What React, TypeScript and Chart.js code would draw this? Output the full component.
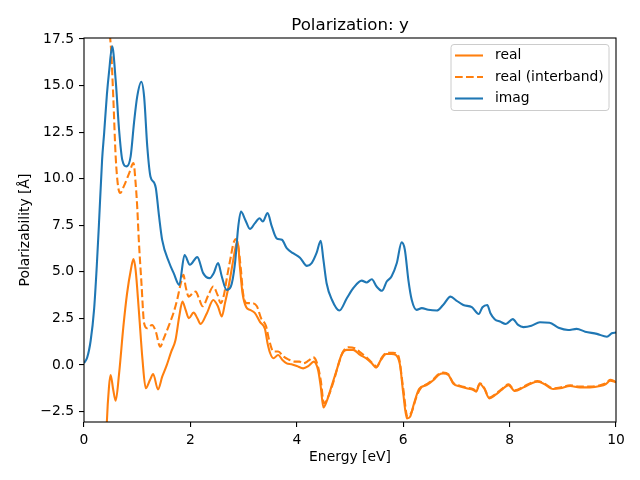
import React, { useEffect, useRef } from "react";
import { Chart, registerables } from "chart.js";

Chart.register(...registerables);

const imagE = [0, 0.06, 0.125, 0.19, 0.24, 0.28, 0.34, 0.38, 0.43, 0.47, 0.53, 0.595, 0.66, 0.72, 0.8, 0.877, 0.94, 1.0, 1.077, 1.13, 1.19, 1.25, 1.316, 1.35, 1.41, 1.47, 1.6, 1.69, 1.79, 1.89, 1.99, 2.13, 2.24, 2.36, 2.44, 2.52, 2.59, 2.68, 2.76, 2.84, 2.9, 2.95, 3.03, 3.12, 3.21, 3.3, 3.36, 3.45, 3.53, 3.62, 3.72, 3.81, 3.93, 4.06, 4.19, 4.28, 4.37, 4.45, 4.5, 4.56, 4.66, 4.8, 4.94, 5.06, 5.22, 5.31, 5.41, 5.5, 5.6, 5.69, 5.78, 5.88, 5.97, 6.03, 6.1, 6.16, 6.25, 6.35, 6.47, 6.63, 6.75, 6.89, 7.0, 7.13, 7.29, 7.42, 7.49, 7.58, 7.64, 7.72, 7.82, 7.93, 8.06, 8.16, 8.26, 8.41, 8.57, 8.75, 8.92, 9.1, 9.26, 9.42, 9.64, 9.83, 9.92, 10.0];
const imagV = [0.1, 0.4, 1.3, 3.0, 5.3, 7.5, 11.0, 12.5, 14.5, 15.7, 17.1, 15.3, 12.6, 11.0, 10.66, 11.2, 13.0, 14.4, 15.2, 14.4, 11.7, 10.1, 9.8, 9.5, 8.0, 6.7, 5.5, 4.9, 4.3, 5.9, 5.38, 5.79, 4.93, 4.66, 4.94, 5.47, 4.75, 4.03, 4.21, 5.5, 7.44, 8.24, 7.8, 7.3, 7.6, 7.88, 7.7, 8.15, 7.44, 6.8, 6.72, 6.27, 6.0, 5.76, 5.32, 5.47, 6.0, 6.67, 5.65, 4.39, 3.5, 2.92, 3.58, 4.12, 4.53, 4.43, 4.6, 4.21, 3.98, 4.48, 4.75, 5.47, 6.58, 6.2, 4.5, 3.5, 2.96, 3.05, 2.96, 2.92, 3.22, 3.67, 3.46, 3.22, 3.1, 2.74, 3.1, 3.22, 2.78, 2.46, 2.33, 2.2, 2.46, 2.15, 2.03, 2.1, 2.29, 2.27, 2.0, 1.88, 1.94, 1.79, 1.67, 1.52, 1.7, 1.74];

const realE = [0.4, 0.43, 0.47, 0.5, 0.55, 0.595, 0.66, 0.74, 0.81, 0.88, 0.93, 0.97, 1.03, 1.1, 1.16, 1.24, 1.3, 1.39, 1.47, 1.55, 1.64, 1.72, 1.79, 1.85, 1.91, 1.97, 2.06, 2.13, 2.19, 2.31, 2.43, 2.52, 2.59, 2.65, 2.73, 2.79, 2.86, 2.89, 2.93, 2.98, 3.05, 3.12, 3.21, 3.31, 3.4, 3.45, 3.5, 3.56, 3.65, 3.73, 3.81, 3.9, 4.0, 4.12, 4.22, 4.32, 4.4, 4.45, 4.5, 4.57, 4.66, 4.75, 4.84, 4.94, 5.06, 5.19, 5.3, 5.41, 5.49, 5.58, 5.68, 5.78, 5.86, 5.94, 6.0, 6.07, 6.13, 6.2, 6.3, 6.44, 6.57, 6.66, 6.75, 6.85, 6.94, 7.07, 7.19, 7.32, 7.37, 7.44, 7.52, 7.62, 7.73, 7.85, 7.98, 8.1, 8.26, 8.41, 8.52, 8.63, 8.82, 8.95, 9.14, 9.32, 9.51, 9.7, 9.81, 9.89, 10.0];
const realV = [-6.0, -3.05, -1.16, -0.54, -1.34, -1.92, -0.45, 2.06, 3.85, 5.1, 5.68, 5.1, 2.96, 0.27, -1.25, -0.81, -0.48, -1.31, -0.63, -0.05, 0.72, 1.34, 2.6, 3.4, 2.96, 2.51, 2.81, 2.51, 2.2, 2.78, 3.49, 3.13, 2.6, 3.32, 4.39, 5.38, 6.45, 6.63, 5.28, 3.85, 3.1, 2.96, 2.8, 2.3, 1.95, 1.17, 0.63, 0.36, 0.54, 0.27, 0.09, 0.04, -0.05, -0.18, -0.05, 0.18, -0.27, -1.16, -2.28, -1.88, -1.08, -0.27, 0.54, 0.81, 0.81, 0.54, 0.36, 0.09, -0.14, 0.27, 0.59, 0.59, 0.54, 0.0, -1.5, -2.87, -2.78, -2.1, -1.28, -1.08, -0.81, -0.54, -0.45, -0.54, -0.99, -1.16, -1.25, -1.34, -1.43, -1.02, -1.25, -1.79, -1.61, -1.34, -1.08, -1.4, -1.2, -0.99, -0.9, -0.99, -1.29, -1.25, -1.13, -1.2, -1.2, -1.13, -1.02, -0.84, -0.93];

const interE = [0.46, 0.49, 0.51, 0.55, 0.595, 0.64, 0.68, 0.75, 0.85, 0.93, 0.97, 1.0, 1.03, 1.08, 1.13, 1.19, 1.28, 1.35, 1.43, 1.5, 1.6, 1.68, 1.75, 1.82, 1.87, 1.91, 1.97, 2.05, 2.1, 2.16, 2.23, 2.34, 2.43, 2.51, 2.57, 2.63, 2.69, 2.76, 2.81, 2.86, 2.9, 2.95, 2.99, 3.06, 3.15, 3.25, 3.33, 3.42, 3.48, 3.56, 3.65, 3.75, 3.84, 3.97, 4.05, 4.12, 4.22, 4.31, 4.37, 4.45, 4.51, 4.59, 4.69, 4.78, 4.87, 4.97, 5.09, 5.2, 5.31, 5.44, 5.5, 5.6, 5.69, 5.81, 5.91, 6.0, 6.08, 6.16, 6.25, 6.33, 6.44, 6.57, 6.66, 6.75, 6.85, 6.94, 7.07, 7.19, 7.32, 7.37, 7.44, 7.52, 7.62, 7.73, 7.85, 7.98, 8.1, 8.26, 8.41, 8.52, 8.63, 8.82, 8.95, 9.14, 9.32, 9.51, 9.7, 9.81, 9.89, 10.0];
const interV = [19.5, 17.65, 16.9, 14.4, 11.2, 9.6, 9.23, 9.6, 10.3, 10.84, 9.77, 8.5, 6.72, 4.39, 2.24, 1.97, 2.15, 1.79, 0.98, 1.43, 2.15, 2.78, 3.49, 4.39, 4.84, 4.21, 3.67, 3.88, 3.94, 3.58, 3.15, 3.76, 4.21, 3.76, 3.32, 3.76, 4.75, 5.82, 6.54, 6.76, 6.36, 5.1, 3.85, 3.32, 3.32, 3.15, 2.5, 2.1, 1.34, 0.72, 0.72, 0.45, 0.3, 0.18, 0.18, 0.09, 0.23, 0.41, 0.18, -0.81, -2.06, -1.7, -0.9, 0.0, 0.72, 0.95, 0.9, 0.66, 0.41, 0.05, -0.09, 0.41, 0.66, 0.66, 0.48, -1.25, -2.78, -2.51, -1.7, -1.24, -1.03, -0.76, -0.5, -0.41, -0.5, -0.95, -1.12, -1.21, -1.3, -1.39, -0.98, -1.21, -1.75, -1.57, -1.3, -1.04, -1.36, -1.16, -0.95, -0.86, -0.95, -1.25, -1.21, -1.09, -1.16, -1.16, -1.09, -0.98, -0.8, -0.89];

const xTicks = [0, 2, 4, 6, 8, 10];
const yTicks = [-2.5, 0, 2.5, 5, 7.5, 10, 12.5, 15, 17.5];
const legendLabels = ["real", "real (interband)", "imag"];

const ORANGE = "#ff7f0e";
const BLUE = "#1f77b4";
const FONT = "DejaVu Sans";
const LW = 2.08;
const DASH = [7.7, 3.3];

const toPts = (xs: number[], ys: number[]) => xs.map((x, i) => ({ x, y: ys[i] }));

const decor = {
  id: "decor",
  afterDatasetsDraw(chart: any) {
    const { ctx, chartArea: a } = chart;
    ctx.save();
    // frame
    ctx.strokeStyle = "#000";
    ctx.lineWidth = 1.1;
    ctx.setLineDash([]);
    ctx.strokeRect(a.left, a.top, a.right - a.left, a.bottom - a.top);
    // title
    ctx.fillStyle = "#000";
    ctx.font = `16.67px "${FONT}"`;
    ctx.textAlign = "center";
    ctx.textBaseline = "alphabetic";
    ctx.fillText("Polarization: y", (a.left + a.right) / 2, 29.5);
    // axis titles
    ctx.font = `13.89px "${FONT}"`;
    ctx.textBaseline = "middle";
    ctx.fillText("Energy [eV]", (a.left + a.right) / 2, 457);
    ctx.save();
    ctx.translate(25, (a.top + a.bottom) / 2);
    ctx.rotate(-Math.PI / 2);
    ctx.fillText("Polarizability [Å]", 0, 0);
    ctx.restore();
    // legend
    const lx = 451, ly = 44.5, lw = 158, lh = 66, r = 3;
    ctx.beginPath();
    ctx.moveTo(lx + r, ly);
    ctx.lineTo(lx + lw - r, ly);
    ctx.quadraticCurveTo(lx + lw, ly, lx + lw, ly + r);
    ctx.lineTo(lx + lw, ly + lh - r);
    ctx.quadraticCurveTo(lx + lw, ly + lh, lx + lw - r, ly + lh);
    ctx.lineTo(lx + r, ly + lh);
    ctx.quadraticCurveTo(lx, ly + lh, lx, ly + lh - r);
    ctx.lineTo(lx, ly + r);
    ctx.quadraticCurveTo(lx, ly, lx + r, ly);
    ctx.closePath();
    ctx.fillStyle = "rgba(255,255,255,0.8)";
    ctx.fill();
    ctx.strokeStyle = "#cccccc";
    ctx.lineWidth = 1;
    ctx.stroke();
    const rows = [55.5, 77, 98.5];
    const cols = [ORANGE, ORANGE, BLUE];
    rows.forEach((y, i) => {
      ctx.beginPath();
      ctx.strokeStyle = cols[i];
      ctx.lineWidth = LW;
      ctx.setLineDash(i === 1 ? DASH : []);
      ctx.moveTo(455, y);
      ctx.lineTo(483, y);
      ctx.stroke();
      ctx.setLineDash([]);
      ctx.fillStyle = "#000";
      ctx.textAlign = "left";
      ctx.textBaseline = "middle";
      ctx.font = `13.89px "${FONT}"`;
      ctx.fillText(legendLabels[i], 495, y);
    });
    ctx.restore();
  },
};

export default function App() {
  const ref = useRef<HTMLCanvasElement | null>(null);
  useEffect(() => {
    if (!ref.current) return;
    const chart = new Chart(ref.current, {
      type: "line",
      data: {
        datasets: [
          {
            label: legendLabels[0],
            data: toPts(realE, realV),
            borderColor: ORANGE,
            borderWidth: LW,
            pointRadius: 0,
            cubicInterpolationMode: "monotone",
            order: 2,
          },
          {
            label: legendLabels[1],
            data: toPts(interE, interV),
            borderColor: ORANGE,
            borderWidth: LW,
            borderDash: DASH,
            pointRadius: 0,
            cubicInterpolationMode: "monotone",
            order: 1,
          },
          {
            label: legendLabels[2],
            data: toPts(imagE, imagV),
            borderColor: BLUE,
            borderWidth: LW,
            pointRadius: 0,
            cubicInterpolationMode: "monotone",
            order: 0,
          },
        ],
      },
      options: {
        animation: false,
        responsive: false,
        devicePixelRatio: 1,
        layout: { padding: { top: 38, right: 24, left: 0, bottom: 0 } },
        plugins: { legend: { display: false }, title: { display: false }, tooltip: { enabled: false } },
        scales: {
          x: {
            type: "linear",
            min: 0,
            max: 10,
            afterFit: (s: any) => { s.height = 58; },
            afterBuildTicks: (s: any) => { s.ticks = xTicks.map((v) => ({ value: v })); },
            grid: { drawOnChartArea: false, drawTicks: true, tickLength: 5, color: "#000", lineWidth: 1.1 },
            border: { display: false },
            ticks: {
              padding: 5,
              color: "#000",
              font: { family: FONT, size: 13.89 },
              maxRotation: 0,
              callback: (v: any) => String(v),
            },
          },
          y: {
            type: "linear",
            min: -3.06,
            max: 17.55,
            afterFit: (s: any) => { s.width = 84; },
            afterBuildTicks: (s: any) => { s.ticks = yTicks.map((v) => ({ value: v })); },
            grid: { drawOnChartArea: false, drawTicks: true, tickLength: 5, color: "#000", lineWidth: 1.1 },
            border: { display: false },
            ticks: {
              padding: 5,
              color: "#000",
              font: { family: FONT, size: 13.89 },
              callback: (v: any) => Number(v).toFixed(1).replace("-", "\u2212"),
            },
          },
        },
      },
      plugins: [decor],
    });
    return () => chart.destroy();
  }, []);
  return (
    <div style={{ position: "absolute", left: 0, top: 0, width: 640, height: 480, background: "#fff" }}>
      <canvas ref={ref} width={640} height={480} />
    </div>
  );
}
